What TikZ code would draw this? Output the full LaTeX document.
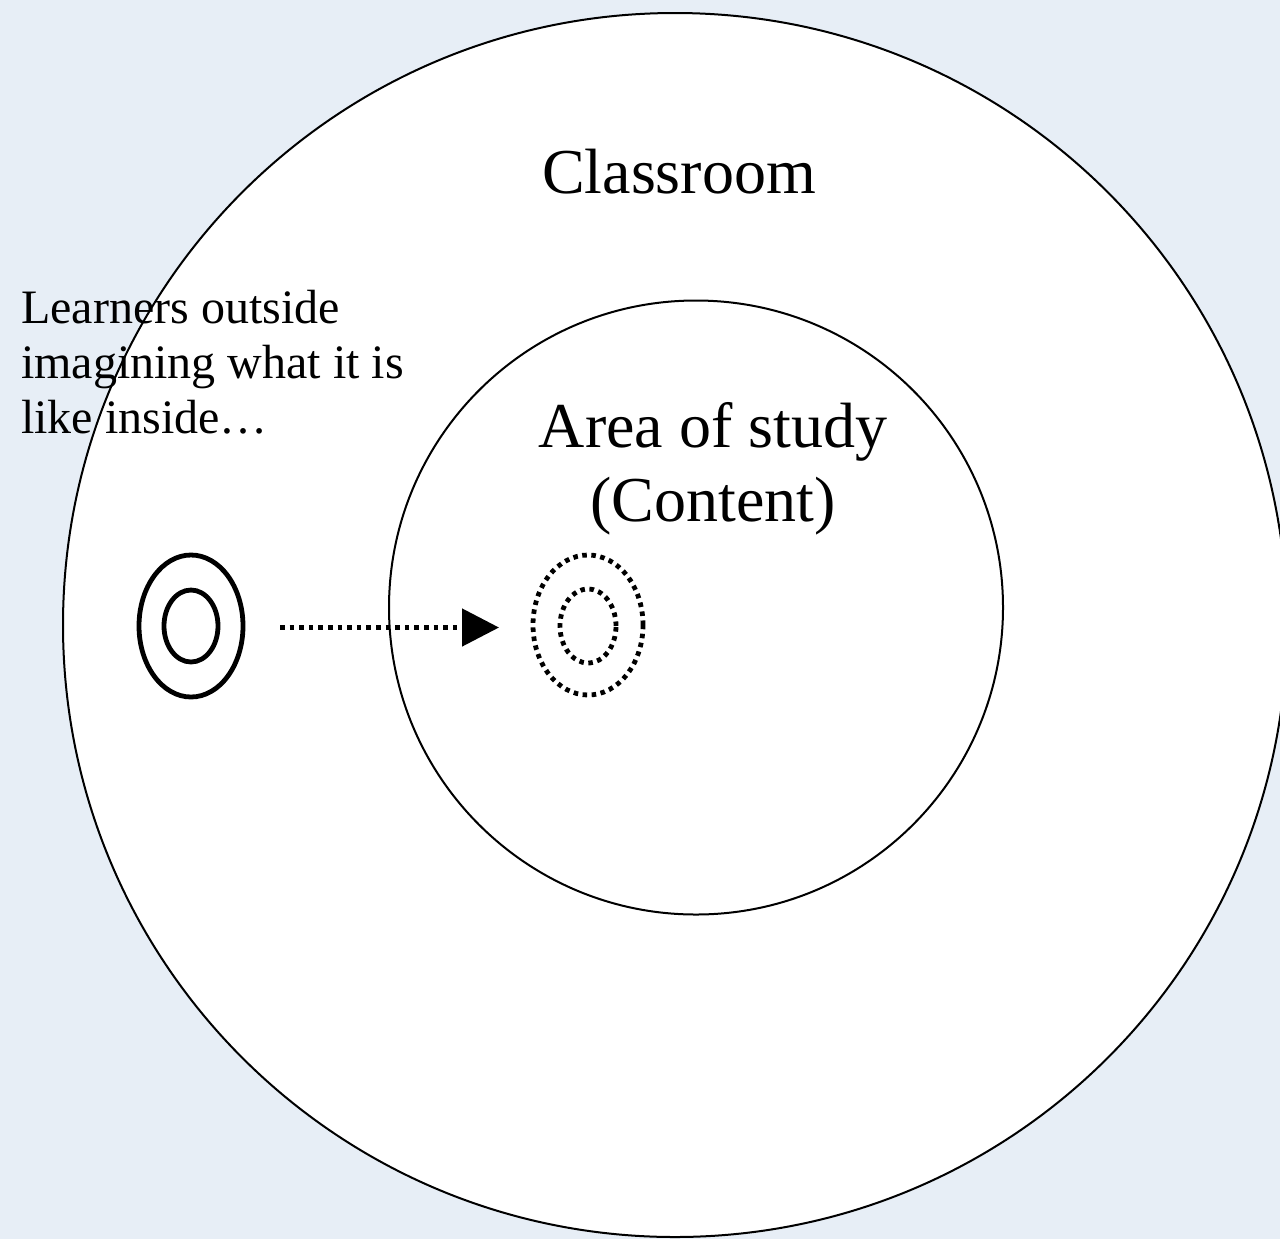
\documentclass[tikz,border=0pt]{standalone}
\usepackage{fontspec}
\setmainfont{Liberation Serif}
\usetikzlibrary{shapes.geometric,arrows.meta}
\definecolor{bgblue}{HTML}{E7EEF6}
\tikzset{
  ring/.style={circle, draw=black, line width=1.5pt, inner sep=0pt},
  solidell/.style={ellipse, draw=black, line width=3.6pt, inner sep=0pt},
  dotell/.style={ellipse, draw=black, line width=3.6pt, inner sep=0pt, dash pattern=on 3.4pt off 3.4pt},
  bigtext/.style={font=\fontsize{48}{56}\selectfont, anchor=base, inner sep=0pt},
  smalltext/.style={font=\fontsize{36}{41}\selectfont, anchor=base west, inner sep=0pt},
  dotarrow/.style={line width=3.6pt, dash pattern=on 3.4pt off 3.8pt, -{Triangle[length=27.75pt,width=27.75pt]}}
}
\begin{document}
\begin{tikzpicture}[x=0.75pt,y=-0.75pt]
\useasboundingbox (0,0) rectangle (1280,1239);
\clip (0,0) rectangle (1280,1239);
\fill[bgblue] (0,0) rectangle (1280,1239);
% classroom fill
\fill[white] (675,625) circle[radius=612];
% left text
\node[smalltext] (l1) at (21,323) {Learners outside};
\node[smalltext] (l2) at (21,378) {imagining what it is};
\node[smalltext] (l3) at (21,433) {like inside\ldots};
% circles
\node[ring, minimum size=918pt] (classroom) at (675,625) {};
\node[ring, minimum size=460.5pt] (area) at (696,607.5) {};
\node[bigtext] (ctext) at (679,193) {Classroom};
\node[bigtext] (atext1) at (713,447) {Area of study};
\node[bigtext] (atext2) at (713,521) {(Content)};
% learner outside
\node[solidell, minimum width=78pt, minimum height=106.5pt] (lo) at (191,626) {};
\node[solidell, minimum width=40.5pt, minimum height=54pt] (li) at (191,626) {};
% imagined learner inside
\node[dotell, minimum width=82.5pt, minimum height=105pt] (do) at (588,625) {};
\node[dotell, minimum width=42pt, minimum height=55.5pt] (di) at (588,626) {};
% arrow
\coordinate (as) at (280,627.5);
\coordinate (ae) at (499,627.5);
\draw[dotarrow] (as) -- (ae);
\end{tikzpicture}
\end{document}
